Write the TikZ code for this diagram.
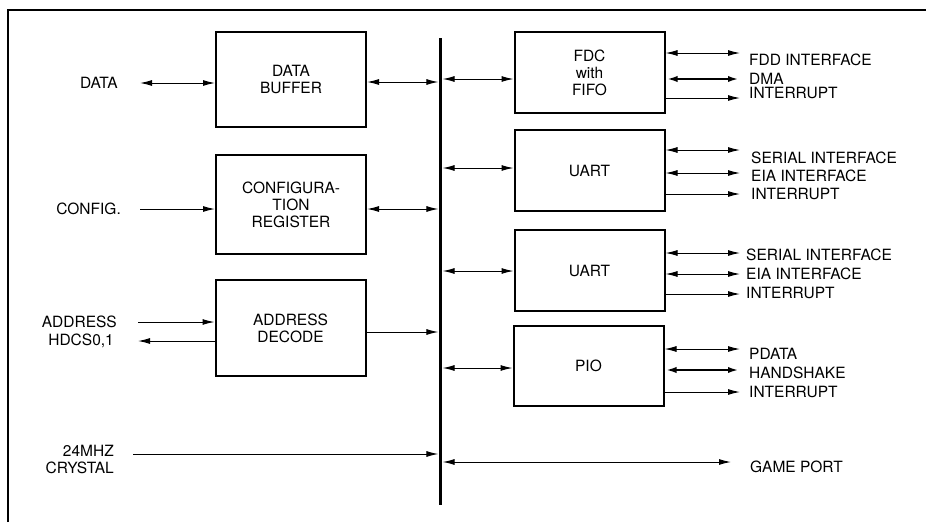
\documentclass[tikz,border=0pt]{standalone}
\usepackage{fontspec}
\setmainfont{TeX Gyre Heros}
\usetikzlibrary{arrows.meta}

\begin{document}
\begin{tikzpicture}[
    x=1pt, y=-1pt,
    font=\fontsize{15.5}{17}\selectfont,
    box/.style={draw, line width=2pt, align=center, inner sep=0pt, minimum width=150pt},
    bus/.style={fill, inner sep=0pt, minimum width=3.8pt},
    arr/.style={-{Latex[length=12pt,width=6pt]}, line width=1pt},
    dbl/.style={{Latex[length=12pt,width=6pt]}-{Latex[length=12pt,width=6pt]}, line width=1pt},
    thk/.style={line width=2.4pt},
    gap/.style={shorten >=9pt},
    lbl/.style={anchor=west, inner sep=0pt},
    lft/.style={anchor=east, align=right, inner sep=0pt}]
  \useasboundingbox (0,0) rectangle (926,522);
  \draw[line width=1.2pt] (8,522) -- (8,10) -- (926,10);

  % internal bus
  \node[bus, minimum height=467pt] (bus) at (440.5,271.5) {};

  % host side blocks
  \node[box, minimum height=95pt] (dbuf) at (291,79.5) {DATA\\BUFFER};
  \node[box, minimum height=99pt] (creg) at (291,204.5) {CONFIGURA-\\TION\\REGISTER};
  \node[box, minimum height=96pt] (adec) at (290.5,328) {ADDRESS\\DECODE};

  % peripheral blocks
  \node[box, minimum height=81pt] (fdc) at (589.5,72.5) {FDC\\with\\FIFO};
  \node[box, minimum height=81pt] (uarta) at (589.5,170.5) {UART};
  \node[box, minimum height=81pt] (uartb) at (589.5,270.5) {UART};
  \node[box, minimum height=80pt] (pio) at (588.5,366) {PIO};

  % host signals
  \node[lft] (ldata) at (118,83) {DATA};
  \node[lft] (lcfg) at (121,209) {CONFIG.};
  \node[lft] (laddr) at (117,322) {ADDRESS};
  \node[lft] (lhdcs) at (114,341) {HDCS0,1};
  \node[lft] (lclk) at (114,459) {24MHZ\\CRYSTAL};
  \coordinate (cclk) at (133,454);

  \draw[dbl] ([xshift=22pt]ldata.east) -- (ldata -| dbuf.west);
  \draw[arr] ([xshift=19pt]lcfg.east) -- (lcfg -| creg.west);
  \draw[arr] ([xshift=21pt]laddr.east) -- (laddr -| adec.west);
  \draw[arr] (lhdcs -| adec.west) -- ([xshift=24pt]lhdcs.east);
  \draw[arr] (cclk) -- (cclk -| bus.west);

  \draw[dbl] (dbuf.east |- 0,82) -- (bus.west |- 0,82);
  \draw[dbl] (creg.east |- 0,209) -- (bus.west |- 0,209);
  \draw[arr] (adec.east |- 0,332) -- (bus.west |- 0,332);

  \draw[dbl] (bus.east |- 0,79) -- (fdc.west |- 0,79);
  \draw[dbl] (bus.east |- 0,168) -- (uarta.west |- 0,168);
  \draw[dbl] (bus.east |- 0,271) -- (uartb.west |- 0,271);
  \draw[dbl] (bus.east |- 0,368) -- (pio.west |- 0,368);

  % FDC
  \node[lbl] (fdd) at (749,60) {FDD INTERFACE};
  \node[lbl] (dma) at (749,79) {DMA};
  \node[lbl] (fint) at (749,93) {INTERRUPT};
  \draw[dbl, gap] (fdc.east |- 0,53) -- (fdd.west |- 0,53);
  \draw[dbl, gap, thk] (fdc.east |- 0,79) -- (dma.west |- 0,79);
  \draw[arr, gap] (fdc.east |- 0,98) -- (fint.west |- 0,98);

  % first UART
  \node[lbl] (sera) at (751,158) {SERIAL INTERFACE};
  \node[lbl] (eiaa) at (751,176) {EIA INTERFACE};
  \node[lbl] (uinta) at (751,194) {INTERRUPT};
  \draw[dbl, shorten >=11pt] (uarta.east |- 0,150) -- (sera.west |- 0,150);
  \draw[dbl, shorten >=11pt] (uarta.east |- 0,173) -- (eiaa.west |- 0,173);
  \draw[arr, shorten >=11pt] (uarta.east |- 0,194) -- (uinta.west |- 0,194);

  % second UART
  \node[lbl] (serb) at (746,255) {SERIAL INTERFACE};
  \node[lbl] (eiab) at (746,274) {EIA INTERFACE};
  \node[lbl] (uintb) at (746,293) {INTERRUPT};
  \draw[dbl, shorten >=6pt] (uartb.east |- 0,253) -- (serb.west |- 0,253);
  \draw[dbl, shorten >=6pt] (uartb.east |- 0,274) -- (eiab.west |- 0,274);
  \draw[arr, shorten >=6pt] (uartb.east |- 0,294) -- (uintb.west |- 0,294);

  % PIO
  \node[lbl] (pdata) at (749,354) {PDATA};
  \node[lbl] (hshk) at (749,373) {HANDSHAKE};
  \node[lbl] (pint) at (749,392) {INTERRUPT};
  \draw[dbl, gap] (pio.east |- 0,349) -- (pdata.west |- 0,349);
  \draw[dbl, gap, thk] (pio.east |- 0,370) -- (hshk.west |- 0,370);
  \draw[arr, gap] (pio.east |- 0,392) -- (pint.west |- 0,392);

  % game port
  \node[lbl] (game) at (750,467) {GAME PORT};
  \draw[dbl, shorten >=19pt] (bus.east |- 0,462) -- (game.west |- 0,462);
\end{tikzpicture}
\end{document}
